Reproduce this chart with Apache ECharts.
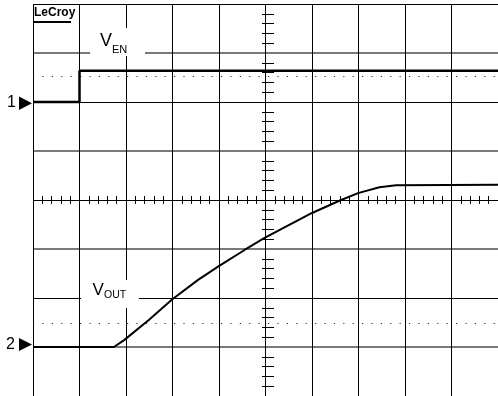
<!DOCTYPE html>
<html>
<head>
<meta charset="utf-8">
<script src="https://cdn.jsdelivr.net/npm/echarts@6/dist/echarts.min.js"></script>
<style>
  html, body { margin: 0; padding: 0; background: #fff; }
  #chart { width: 498px; height: 396px; }
</style>
</head>
<body>
<div id="chart"></div>
<script>
// Axis ranges (divisions of the scope graticule)
const xDivs = [0, 10];
const yDivs = [0, 8];

// Channel 1: V_EN (enable step)
const venX = [0, 1.0, 1.0, 10];
const venY = [6.0, 6.0, 6.64, 6.64];

// Channel 2: V_OUT (soft-start ramp)
const voutX = [0, 1.74, 1.96, 2.49, 2.99, 3.55, 3.98, 4.55, 4.97, 5.99, 6.60, 6.99, 7.45, 7.81, 10];
const voutY = [1.0, 1.0, 1.14, 1.55, 1.97, 2.37, 2.64, 2.98, 3.22, 3.73, 3.99, 4.14, 4.26, 4.30, 4.31];

// Dotted reference levels
const refLevels = [6.52, 1.48];

// Text labels
const labelVen = ['V', 'EN'];
const labelVout = ['V', 'OUT'];
const channelNames = ['1', '2'];
const brand = 'LeCroy';

const zip = (xs, ys) => xs.map((x, i) => [x, ys[i]]);
const FONT = '"Liberation Sans", Arial, sans-serif';

const chart = echarts.init(document.getElementById('chart'), null, { renderer: 'canvas' });

const hiddenAxis = { show: false, type: 'value', min: 0, max: 1 };

chart.setOption({
  animation: false,
  backgroundColor: '#fff',
  grid: [
    { left: 33, top: 4, width: 470, height: 392 },
    { left: 262, top: 4, width: 12, height: 392 },
    { left: 33, top: 196, width: 470, height: 8 }
  ],
  xAxis: [
    {
      gridIndex: 0, type: 'value', min: xDivs[0], max: xDivs[1], interval: 1,
      axisLine: { show: false }, axisTick: { show: false }, axisLabel: { show: false },
      splitLine: { show: true, lineStyle: { color: '#000', width: 1 } }
    },
    Object.assign({ gridIndex: 1 }, hiddenAxis),
    {
      gridIndex: 2, type: 'value', min: xDivs[0], max: xDivs[1], interval: 1, position: 'top',
      axisLine: { show: false, onZero: false }, axisTick: { show: false, inside: true }, axisLabel: { show: false },
      minorTick: { show: true, splitNumber: 5, length: 8, lineStyle: { color: '#000', width: 1 } },
      splitLine: { show: false }
    }
  ],
  yAxis: [
    {
      gridIndex: 0, type: 'value', min: yDivs[0], max: yDivs[1], interval: 1,
      axisLine: { show: false }, axisTick: { show: false }, axisLabel: { show: false },
      splitLine: { show: true, lineStyle: { color: ['rgba(0,0,0,0)', '#7a7a7a'], width: 2 } }
    },
    {
      gridIndex: 0, type: 'value', min: yDivs[0], max: yDivs[1], interval: 2,
      axisLine: { show: false }, axisTick: { show: false }, axisLabel: { show: false },
      splitLine: { show: true, lineStyle: { color: '#000', width: 1 } }
    },
    {
      gridIndex: 1, type: 'value', min: yDivs[0], max: yDivs[1], interval: 1, position: 'left',
      axisLine: { show: false, onZero: false }, axisTick: { show: false, inside: true }, axisLabel: { show: false },
      minorTick: { show: true, splitNumber: 5, length: 12, lineStyle: { color: '#000', width: 1 } },
      splitLine: { show: false }
    },
    Object.assign({ gridIndex: 2 }, hiddenAxis)
  ],
  series: [
    {
      name: 'VEN', type: 'line', xAxisIndex: 0, yAxisIndex: 0,
      data: zip(venX, venY), symbol: 'none', z: 5,
      lineStyle: { color: '#000', width: 2.5 }
    },
    {
      name: 'VOUT', type: 'line', xAxisIndex: 0, yAxisIndex: 0,
      data: zip(voutX, voutY), symbol: 'none', z: 5,
      lineStyle: { color: '#000', width: 2 },
      markLine: {
        silent: true, symbol: ['none', 'none'], label: { show: false },
        lineStyle: { type: [1.2, 8.2], color: '#333', width: 1.2 },
        data: refLevels.map(v => ({ yAxis: v }))
      }
    }
  ],
  graphic: [
    // LeCroy logo
    { type: 'text', z: 100, style: { text: brand, x: 34, y: 13, font: 'bold 12px ' + FONT, fill: '#000', textVerticalAlign: 'middle' } },
    { type: 'rect', z: 100, shape: { x: 33, y: 21, width: 38, height: 2 }, style: { fill: '#000' } },
    // V_EN label
    { type: 'rect', z: 90, shape: { x: 90, y: 28, width: 55, height: 28 }, style: { fill: '#fff' } },
    { type: 'text', z: 100, style: { text: labelVen[0], x: 100, y: 41, font: '18px ' + FONT, fill: '#000', textVerticalAlign: 'middle' } },
    { type: 'text', z: 100, style: { text: labelVen[1], x: 112, y: 49.5, font: '11px ' + FONT, fill: '#000', textVerticalAlign: 'middle' } },
    // V_OUT label
    { type: 'rect', z: 90, shape: { x: 81, y: 280, width: 58, height: 28 }, style: { fill: '#fff' } },
    { type: 'text', z: 100, style: { text: labelVout[0], x: 92.5, y: 290, font: '17px ' + FONT, fill: '#000', textVerticalAlign: 'middle' } },
    { type: 'text', z: 100, style: { text: labelVout[1], x: 104, y: 295.5, font: '10.5px ' + FONT, fill: '#000', textVerticalAlign: 'middle' } },
    // Channel markers
    { type: 'text', z: 100, style: { text: channelNames[0], x: 7, y: 103, font: '16px ' + FONT, fill: '#000', textVerticalAlign: 'middle' } },
    { type: 'polygon', z: 100, shape: { points: [[19, 96.5], [19, 110], [32, 103.2]] }, style: { fill: '#000' } },
    { type: 'text', z: 100, style: { text: channelNames[1], x: 6, y: 344.5, font: '16px ' + FONT, fill: '#000', textVerticalAlign: 'middle' } },
    { type: 'polygon', z: 100, shape: { points: [[19, 338], [19, 351], [32, 344.5]] }, style: { fill: '#000' } }
  ]
});
</script>
</body>
</html>
